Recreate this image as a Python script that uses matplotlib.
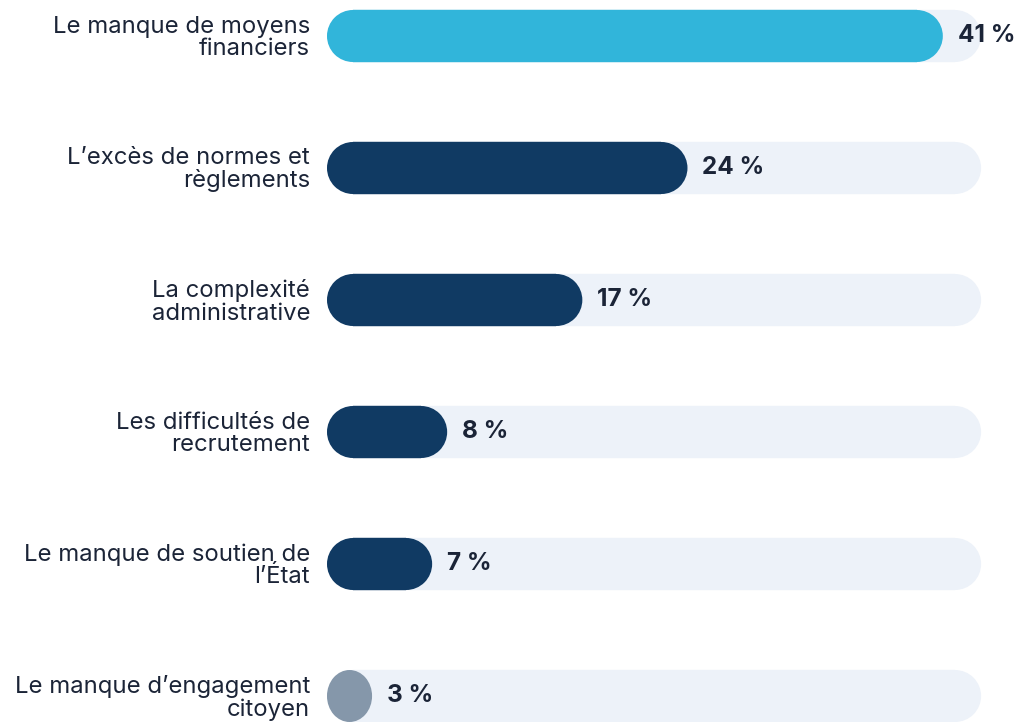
import matplotlib
matplotlib.use("Agg")
import matplotlib.pyplot as plt
from matplotlib.patches import Rectangle, Ellipse

categories = [
    "Le manque de moyens\nfinanciers",
    "L\u2019exc\u00e8s de normes et\nr\u00e8glements",
    "La complexit\u00e9\nadministrative",
    "Les difficult\u00e9s de\nrecrutement",
    "Le manque de soutien de\nl\u2019\u00c9tat",
    "Le manque d\u2019engagement\ncitoyen",
]
values = [41, 24, 17, 8, 7, 3]
value_labels = ["41 %", "24 %", "17 %", "8 %", "7 %", "3 %"]
bar_colors = ["#31B5DA", "#103A63", "#103A63", "#103A63", "#103A63", "#8597AA"]
track_color = "#EDF2F9"
text_color = "#1B2437"

W, H = 1019, 722
fig = plt.figure(figsize=(W / 100, H / 100), dpi=100)
ax = fig.add_axes([0, 0, 1, 1])
ax.set_axis_off()

px_per_pct = 15.02
x0_px = 327
row_px = 132
first_px = 36
ax.set_xlim(-x0_px / px_per_pct, (W - x0_px) / px_per_pct)
ax.set_ylim((H - first_px) / row_px, -first_px / row_px)

bar_h_px = 52
bar_h = bar_h_px / row_px
r_x = (bar_h_px / 2) / px_per_pct
track_max = 43.55

def rounded_bar(y, width, color, z):
    if width < 2 * r_x:
        ax.add_patch(Ellipse((width / 2, y), width, bar_h, facecolor=color,
                             edgecolor="none", zorder=z))
        return
    ax.add_patch(Rectangle((r_x, y - bar_h / 2), width - 2 * r_x, bar_h,
                           facecolor=color, edgecolor=color, linewidth=0.3, zorder=z))
    for cx in (r_x, width - r_x):
        ax.add_patch(Ellipse((cx, y), 2 * r_x, bar_h, facecolor=color,
                             edgecolor="none", zorder=z))

for i, (cat, v, lab, c) in enumerate(zip(categories, values, value_labels, bar_colors)):
    rounded_bar(i, track_max, track_color, 1)
    rounded_bar(i, v, c, 2)
    ax.text(v + 15 / px_per_pct, i, lab, ha="left", va="center",
            fontsize=17.5, fontweight="bold", family="Inter", color=text_color, zorder=3)
    ax.text(-17 / px_per_pct, i + 2 / row_px, cat, ha="right", va="center",
            multialignment="right", fontsize=17.2, family="Inter", color=text_color,
            linespacing=1.0, zorder=3)

fig.savefig("out.png", dpi=100, facecolor="white")
